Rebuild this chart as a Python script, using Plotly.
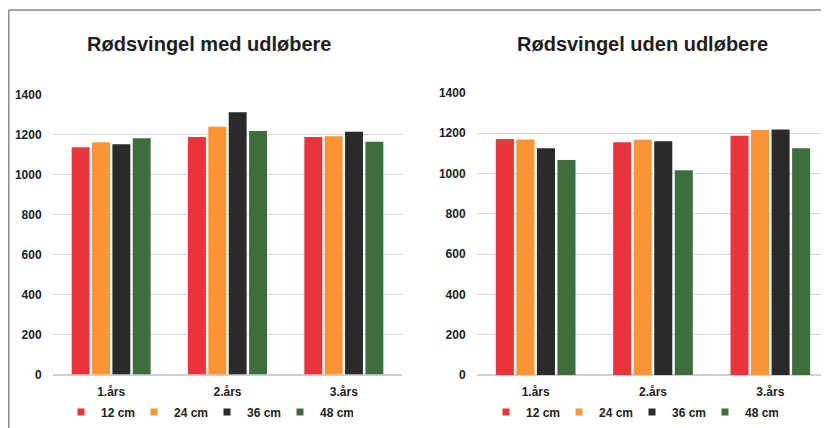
import plotly.graph_objects as go

categories = ["1.års", "2.års", "3.års"]
series_names = ["12 cm", "24 cm", "36 cm", "48 cm"]
colors = ["#e8353b", "#fb9534", "#2a2a2a", "#3c6f3c"]

# Rødsvingel med udløbere
med_12 = [1138, 1189, 1189]
med_24 = [1163, 1241, 1194]
med_36 = [1153, 1313, 1216]
med_48 = [1183, 1220, 1166]

# Rødsvingel uden udløbere
uden_12 = [1170, 1154, 1187]
uden_24 = [1168, 1167, 1215]
uden_36 = [1124, 1159, 1218]
uden_48 = [1066, 1015, 1124]

titles = ["Rødsvingel med udløbere", "Rødsvingel uden udløbere"]
y_ticks = [0, 200, 400, 600, 800, 1000, 1200, 1400]

# the page body has an 8px margin, so the figure fills the rest of the window
OFF = 8
W, H = 829 - OFF, 428 - OFF
FONT = "Liberation Sans, Arial, sans-serif"

fig = go.Figure()

panels = [
    ([med_12, med_24, med_36, med_48], "x", "y", "legend"),
    ([uden_12, uden_24, uden_36, uden_48], "x2", "y2", "legend2"),
]
for vals, xa, ya, lg in panels:
    for name, v, c in zip(series_names, vals, colors):
        fig.add_trace(go.Bar(x=categories, y=v, name=name, marker_color=c,
                             marker_line_width=0, xaxis=xa, yaxis=ya,
                             showlegend=False))
    for name, c in zip(series_names, colors):
        fig.add_trace(go.Scatter(x=[None], y=[None], mode="markers", name=name,
                                 marker=dict(symbol="square", size=7, color=c),
                                 xaxis=xa, yaxis=ya, legend=lg, showlegend=True))

def px_x(p):
    return min(max((p - OFF) / W, 0), 1)

def px_y(p):
    return min(max((H - (p - OFF)) / H, 0), 1)

axis_font = dict(family=FONT, size=12, color="#222222", weight="bold")
leg_font = dict(family=FONT, size=12, color="#222222", weight="bold")

common_x = dict(tickfont=axis_font, showgrid=False, automargin=False,
                ticks="outside", ticklen=6, tickcolor="rgba(0,0,0,0)")
common_y = dict(range=[0, 1400], tickvals=y_ticks, automargin=False,
                tickfont=axis_font, gridcolor="#d6d6d6", zerolinecolor="#cfcfcf",
                ticks="outside", ticklen=8, tickcolor="rgba(0,0,0,0)")

fig.update_layout(
    width=W, height=H,
    margin=dict(l=0, r=0, t=0, b=0, pad=0, autoexpand=False),
    paper_bgcolor="white", plot_bgcolor="white",
    barmode="group", bargap=0.3, bargroupgap=0.12,
    font=dict(family=FONT, color="#222222"),
    xaxis=dict(domain=[px_x(53), px_x(402)], anchor="y", **common_x),
    xaxis2=dict(domain=[px_x(477), 1.0], anchor="y2", **common_x),
    yaxis=dict(domain=[px_y(374.5), px_y(95)], anchor="x", **common_y),
    yaxis2=dict(domain=[px_y(375), px_y(92.7)], anchor="x2", **common_y),
    legend=dict(orientation="h", x=px_x(61), y=px_y(412), xanchor="left", yanchor="middle",
                entrywidth=28, font=leg_font, bgcolor="rgba(0,0,0,0)"),
    legend2=dict(orientation="h", x=px_x(486), y=px_y(412), xanchor="left", yanchor="middle",
                 entrywidth=28, font=leg_font, bgcolor="rgba(0,0,0,0)"),
    annotations=[
        dict(text=titles[0], x=px_x(209), y=px_y(44), xref="paper", yref="paper",
             showarrow=False, xanchor="center", yanchor="middle",
             font=dict(family=FONT, size=20, color="#1e1e1e", weight="bold")),
        dict(text=titles[1], x=px_x(642), y=px_y(44), xref="paper", yref="paper",
             showarrow=False, xanchor="center", yanchor="middle",
             font=dict(family=FONT, size=20, color="#1e1e1e", weight="bold")),
    ],
    shapes=[
        dict(type="line", xref="paper", yref="paper", x0=0.001, x1=1, y0=px_y(10), y1=px_y(10),
             line=dict(color="#8a8a8a", width=1.5)),
        dict(type="line", xref="paper", yref="paper", x0=0.001, x1=0.001, y0=px_y(10), y1=0,
             line=dict(color="#8a8a8a", width=1.5)),
    ],
)

fig.write_html("out.html")
